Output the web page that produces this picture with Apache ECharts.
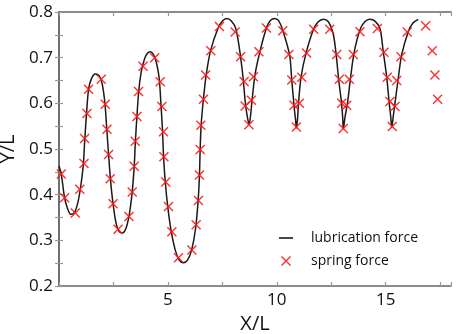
<!DOCTYPE html>
<html>
<head>
<meta charset="utf-8">
<script src="https://cdn.jsdelivr.net/npm/echarts@6/dist/echarts.min.js"></script>
<style>
html, body { margin: 0; padding: 0; background: #fff; }
#chart { width: 456px; height: 334px; }
</style>
</head>
<body>
<div id="chart"></div>
<script>
// lubrication force trajectory
var lubX = [0, 0.105, 0.243, 0.381, 0.541, 0.702, 0.862, 1.0, 1.115, 1.183, 1.266, 1.358, 1.482, 1.665, 1.849, 1.986,
    2.110, 2.193, 2.275, 2.362, 2.482, 2.628, 2.766, 2.904, 3.064, 3.225, 3.362, 3.454, 3.509, 3.578, 3.661, 3.775,
    3.913, 4.050, 4.188, 4.326, 4.463, 4.601, 4.683, 4.752, 4.798, 4.876, 4.991, 5.151, 5.335, 5.518, 5.716, 5.908,
    6.092, 6.275, 6.390, 6.450, 6.482, 6.528, 6.633, 6.757, 6.963, 7.307, 7.514, 7.706, 7.904, 8.110, 8.294, 8.454,
    8.560, 8.651, 8.729, 8.798, 8.867, 9.005, 9.234, 9.541, 9.716, 9.899, 10.083, 10.266, 10.587, 10.688, 10.794,
    10.862, 10.899, 10.954, 11.0, 11.115, 11.345, 11.679, 11.894, 12.147, 12.376, 12.583, 12.720, 12.835, 12.972,
    13.028, 13.055, 13.133, 13.248, 13.385, 13.546, 13.821, 14.050, 14.280, 14.509, 14.739, 14.890, 15.046, 15.165,
    15.234, 15.280, 15.349, 15.427, 15.578, 15.734, 16.037, 16.252, 16.495];
var lubY = [0.463, 0.445, 0.397, 0.371, 0.357, 0.360, 0.382, 0.419, 0.465, 0.520, 0.579, 0.631, 0.653, 0.664, 0.660, 0.642,
    0.599, 0.544, 0.489, 0.434, 0.380, 0.336, 0.319, 0.316, 0.325, 0.356, 0.406, 0.463, 0.518, 0.571, 0.627, 0.669,
    0.695, 0.709, 0.713, 0.708, 0.691, 0.655, 0.596, 0.542, 0.487, 0.430, 0.375, 0.320, 0.279, 0.257, 0.251, 0.257,
    0.279, 0.327, 0.388, 0.443, 0.500, 0.553, 0.610, 0.662, 0.716, 0.765, 0.781, 0.786, 0.781, 0.765, 0.717, 0.655,
    0.599, 0.570, 0.554, 0.574, 0.607, 0.664, 0.715, 0.767, 0.782, 0.786, 0.781, 0.761, 0.706, 0.651, 0.594,
    0.564, 0.546, 0.566, 0.601, 0.658, 0.710, 0.761, 0.778, 0.784, 0.778, 0.754, 0.710, 0.655, 0.601,
    0.568, 0.544, 0.570, 0.601, 0.655, 0.710, 0.761, 0.779, 0.784, 0.780, 0.764, 0.713, 0.658, 0.600,
    0.570, 0.547, 0.572, 0.600, 0.655, 0.706, 0.757, 0.776, 0.784];

// spring force markers
var springX = [0.105, 0.257, 0.748, 0.954, 1.147, 1.174, 1.284, 1.358, 1.940, 2.124, 2.202, 2.275, 2.353, 2.482, 2.711,
    3.211, 3.362, 3.454, 3.500, 3.578, 3.651, 3.858, 4.394, 4.647, 4.725, 4.798, 4.817, 4.899, 5.028, 5.183, 5.486,
    6.101, 6.298, 6.404, 6.450, 6.482, 6.514, 6.633, 6.734, 6.972, 7.367, 8.087, 8.339, 8.500, 8.546, 8.720, 8.835,
    8.927, 9.179, 9.523, 10.275, 10.555, 10.688, 10.794, 10.899, 11.037, 11.147, 11.367, 11.697, 12.431, 12.752,
    12.872, 12.982, 13.055, 13.211, 13.330, 13.514, 13.821, 14.615, 14.922, 15.073, 15.197, 15.303, 15.427, 15.505,
    15.702, 15.991, 16.835, 17.138, 17.261, 17.385];
var springY = [0.445, 0.393, 0.360, 0.412, 0.468, 0.523, 0.578, 0.631, 0.653, 0.598, 0.543, 0.488, 0.435, 0.380, 0.324,
    0.352, 0.406, 0.462, 0.517, 0.571, 0.626, 0.681, 0.700, 0.647, 0.593, 0.538, 0.483, 0.428, 0.374, 0.319, 0.262,
    0.279, 0.334, 0.387, 0.443, 0.499, 0.552, 0.609, 0.662, 0.715, 0.768, 0.756, 0.702, 0.648, 0.594, 0.553, 0.607,
    0.658, 0.713, 0.765, 0.759, 0.707, 0.651, 0.596, 0.548, 0.600, 0.657, 0.710, 0.762, 0.762, 0.707,
    0.653, 0.600, 0.545, 0.596, 0.653, 0.707, 0.757, 0.764, 0.712, 0.657, 0.604, 0.549, 0.593, 0.650,
    0.702, 0.756, 0.770, 0.715, 0.662, 0.609];

var legendList = ['lubrication force', 'spring force'];

var crossPath = 'path://M0,1L1,0L5,4L9,0L10,1L6,5L10,9L9,10L5,6L1,10L0,9L4,5Z';
var linePath = 'path://M0,0L14,0L14,1.6L0,1.6Z';
var fontName = 'Open Sans';
var frameColor = '#666';

function zip(xs, ys) {
    return xs.map(function (x, i) { return [x, ys[i]]; });
}

function frameAxis(extra) {
    var base = {
        type: 'value',
        axisLine: { show: true, lineStyle: { color: frameColor, width: 1.5 } },
        axisTick: { show: true, inside: true, length: 4, lineStyle: { color: '#999', width: 1.2 } },
        splitLine: { show: false },
        axisLabel: { show: false }
    };
    return Object.assign(base, extra);
}

var chart = echarts.init(document.getElementById('chart'));
var option = {
    animation: false,
    textStyle: { fontFamily: fontName },
    grid: { left: 59, right: 5, top: 12, bottom: 48, containLabel: false, outerBoundsMode: 'none' },
    legend: {
        orient: 'vertical',
        left: 274,
        top: 226,
        itemWidth: 14,
        itemHeight: 10,
        itemGap: 9,
        textStyle: { fontFamily: fontName, fontSize: 14, color: '#111', padding: [0, 0, 0, 13] },
        data: [
            { name: legendList[0], icon: linePath },
            { name: legendList[1], icon: crossPath }
        ]
    },
    xAxis: [
        frameAxis({
            position: 'bottom', min: 0, max: 18, interval: 2.5,
            name: 'X/L', nameLocation: 'middle', nameGap: 26,
            nameTextStyle: { fontFamily: fontName, fontSize: 20, color: '#111' },
            axisLabel: {
                show: true, fontFamily: fontName, fontSize: 17, color: '#111', margin: 6,
                formatter: function (v) { return (v > 0 && v % 5 === 0) ? String(v) : ''; }
            }
        }),
        frameAxis({ position: 'top', min: 0, max: 18, interval: 2.5 })
    ],
    yAxis: [
        frameAxis({
            position: 'left', min: 0.2, max: 0.8, interval: 0.05,
            name: 'Y/L', nameLocation: 'middle', nameGap: 35,
            nameTextStyle: { fontFamily: fontName, fontSize: 20, color: '#111' },
            axisLabel: {
                show: true, fontFamily: fontName, fontSize: 17, color: '#111', margin: 6,
                formatter: function (v) { return Math.round(v * 100) % 10 === 0 ? v.toFixed(1) : ''; }
            }
        }),
        frameAxis({ position: 'right', min: 0.2, max: 0.8, interval: 0.05 })
    ],
    series: [
        {
            name: legendList[0],
            type: 'line',
            data: zip(lubX, lubY),
            symbol: 'none',
            smooth: 0.3,
            lineStyle: { color: '#1a1a1a', width: 1.5 },
            itemStyle: { color: '#1a1a1a' },
            z: 2
        },
        {
            name: legendList[1],
            type: 'scatter',
            data: zip(springX, springY),
            symbol: crossPath,
            symbolSize: 10,
            itemStyle: { color: '#ff1a1a', opacity: 0.9 },
            z: 3
        }
    ]
};
chart.setOption(option);
</script>
</body>
</html>
